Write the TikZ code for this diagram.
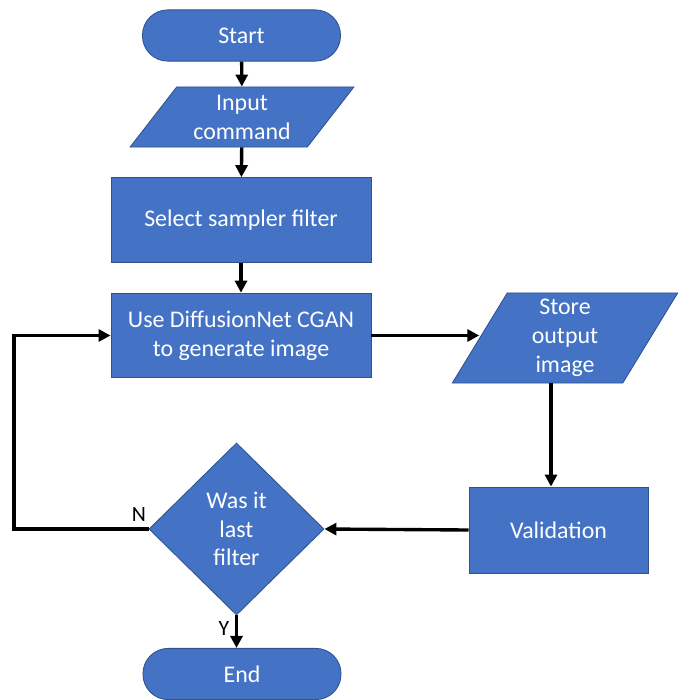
\documentclass[tikz,border=0pt]{standalone}
\usepackage{fontspec}
\setmainfont{Carlito}
\usetikzlibrary{arrows.meta,positioning,shapes.geometric}

\definecolor{boxFill}{HTML}{4472C4}
\definecolor{boxLine}{HTML}{2F528F}

\begin{document}
\begin{tikzpicture}[
  x=0.025cm, y=-0.025cm,
  every node/.style={font=\fontsize{17}{20.5}\selectfont},
  block/.style={draw=boxLine, line width=0.6pt, fill=boxFill,
    text=white, align=center, inner sep=2pt},
  termBox/.style={block, rectangle, rounded corners=0.63cm,
    minimum width=4.95cm, minimum height=1.28cm},
  procBox/.style={block, rectangle, minimum width=6.5cm,
    minimum height=2.12cm},
  ioBox/.style={block, trapezium, trapezium stretches=true},
  decBox/.style={block, diamond, minimum width=4.375cm,
    minimum height=4.3cm, inner sep=0pt},
  flowArrow/.style={-{Triangle[length=0.3cm, width=0.3cm]},
    line width=2.4pt},
  branchText/.style={font=\fontsize{15.5}{18}\selectfont}
]
\useasboundingbox (0,0) rectangle (688,700);

% Main column.
\node[termBox] (start) at (241.5,35.5) {Start};
\node[ioBox, trapezium left angle=53.7, trapezium right angle=126.3,
  minimum width=5.6cm, minimum height=1.5cm] (input) at (242,117)
  {Input\\command};
\node[procBox] (select) at (241,220) {Select sampler filter};
\node[procBox] (generate) at (241,335.5)
  {Use DiffusionNet CGAN\\to generate image};
\node[decBox] (last) at (236.5,529) {Was it\\last\\filter};
\node[termBox] (finish) at (242,674) {End};

% Right column.
\node[ioBox, trapezium left angle=67.6, trapezium right angle=112.4,
  minimum width=5.65cm, minimum height=2.25cm] (store) at (565,338)
  {Store\\output\\image};
\node[procBox, minimum width=4.475cm, minimum height=2.15cm]
  (valid) at (558.5,530) {Validation};

\coordinate (loopx) at (14,0);
\coordinate (storeOut) at (551,0);

% Connectors.
\draw[flowArrow] (start) -- (input);
\draw[flowArrow] (input) -- (select);
\draw[flowArrow] (select) -- (generate);
\draw[flowArrow] (generate.east) -- (generate.east -| store.west);
\draw[flowArrow] (store.south -| storeOut) -- (valid.north -| storeOut);
\draw[flowArrow] (valid.west) -- (last.east);
\draw[flowArrow] (last.west) -- (last.west -| loopx) |- (generate.west);
\draw[flowArrow] (last.south) -- (last.south |- finish.north);

% Branch labels.
\node[branchText] (noText) at (139,514) {N};
\node[branchText] (yesText) at (224,628) {Y};
\end{tikzpicture}
\end{document}
